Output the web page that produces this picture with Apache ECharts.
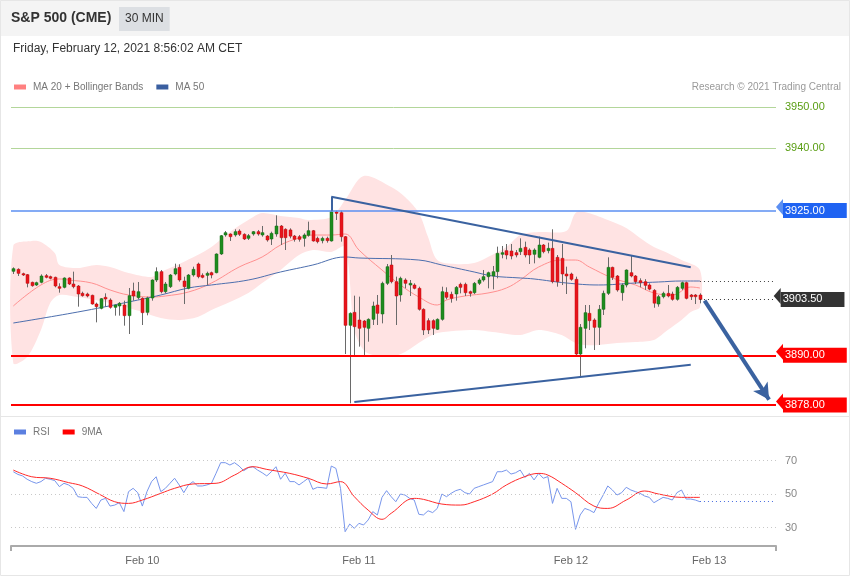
<!DOCTYPE html>
<html><head><meta charset="utf-8">
<script src="https://cdn.jsdelivr.net/npm/echarts@6/dist/echarts.min.js"></script>
<style>html,body{margin:0;padding:0;background:#fff}#c{width:850px;height:576px}</style>
</head><body><div id="c"></div><script>
// ---------- DATA ----------
const slotCount = 166;
const categories = Array.from({length: slotCount}, (_, i) => String(i));
const tickIndex = [28, 75, 121, 151];
const tickText = ['Feb 10', 'Feb 11', 'Feb 12', 'Feb 13'];

// candles: [open, close, low, high]
const candles = [
[3910.30,3910.94,3909.65,3911.26],[3910.78,3909.81,3909.17,3911.02],[3909.73,3909.41,3909.17,3909.97],[3909.49,3907.40,3906.43,3909.65],
[3907.64,3906.83,3906.59,3907.80],[3906.99,3907.56,3906.75,3907.80],[3907.64,3909.17,3907.40,3909.57],[3909.25,3908.85,3908.61,3909.65],
[3909.01,3908.61,3908.37,3909.25],[3908.85,3906.75,3906.43,3909.01],[3906.59,3906.19,3905.14,3907.40],[3906.43,3908.69,3906.19,3908.85],
[3908.69,3907.24,3906.99,3908.85],[3907.24,3906.59,3906.19,3910.22],[3906.75,3904.82,3901.76,3906.99],[3904.98,3904.42,3904.18,3905.38],
[3904.82,3904.34,3904.02,3905.14],[3904.50,3902.40,3902.24,3904.66],[3902.40,3901.76,3897.97,3902.73],[3901.36,3903.69,3901.12,3903.85],
[3904.02,3903.61,3901.76,3904.98],[3903.37,3901.60,3901.28,3903.77],[3901.60,3902.16,3899.59,3902.32],[3901.92,3902.57,3899.59,3902.89],
[3902.16,3899.59,3897.17,3903.21],[3899.59,3904.42,3895.16,3906.27],[3905.55,3904.34,3903.21,3907.56],[3903.93,3905.38,3903.53,3907.72],
[3903.77,3900.31,3897.33,3904.02],[3900.39,3903.85,3899.67,3904.18],[3903.85,3908.20,3903.21,3908.37],[3908.20,3910.22,3907.72,3911.26],
[3910.22,3905.38,3904.98,3910.62],[3905.38,3907.24,3904.98,3907.72],[3906.59,3909.41,3906.27,3909.65],[3909.65,3910.94,3909.33,3912.15],
[3911.26,3908.20,3907.80,3911.99],[3907.96,3906.59,3902.40,3909.00],[3906.19,3909.41,3905.95,3909.65],[3909.41,3910.78,3909.01,3911.42],
[3912.07,3909.01,3908.61,3912.39],[3909.33,3908.85,3908.61,3909.81],[3909.33,3909.81,3907.00,3910.22],[3909.97,3909.41,3908.61,3910.22],
[3909.97,3914.49,3909.81,3914.65],[3914.49,3918.91,3914.24,3919.08],[3919.08,3919.64,3918.67,3920.04],[3919.32,3918.67,3917.63,3919.48],
[3919.08,3919.88,3918.67,3920.45],[3920.04,3919.24,3918.83,3920.45],[3919.24,3918.11,3917.87,3919.48],[3918.27,3918.91,3917.87,3919.32],
[3919.32,3919.88,3918.91,3920.04],[3919.88,3919.32,3918.91,3920.29],[3919.08,3919.64,3918.67,3921.25],[3918.83,3917.87,3917.47,3919.08],
[3918.11,3919.48,3916.66,3919.88],[3919.32,3921.25,3918.67,3923.83],[3921.25,3918.43,3916.66,3921.49],[3920.45,3918.43,3915.45,3920.69],
[3920.30,3918.80,3918.27,3920.69],[3918.83,3918.03,3917.47,3919.08],[3918.67,3918.03,3917.47,3919.08],[3918.27,3919.08,3916.26,3919.48],
[3918.99,3920.12,3918.67,3922.30],[3920.12,3917.63,3917.47,3920.29],[3918.27,3917.47,3917.06,3918.67],[3917.71,3918.27,3917.06,3918.67],
[3918.27,3917.71,3917.22,3918.67],[3917.63,3924.71,3917.47,3924.95],[3924.63,3924.31,3922.70,3924.95],[3924.47,3918.67,3917.47,3924.95],
[3918.67,3897.25,3890.32,3918.83],[3897.25,3900.15,3878.41,3900.39],[3900.39,3896.93,3890.08,3904.42],[3898.54,3896.53,3892.10,3904.18],
[3898.30,3896.77,3890.08,3898.54],[3896.53,3898.70,3893.30,3898.94],[3898.70,3901.92,3897.33,3902.97],[3902.16,3900.15,3897.33,3904.58],
[3899.99,3907.40,3897.73,3907.80],[3907.40,3911.42,3906.99,3912.07],[3911.83,3907.80,3907.40,3914.24],[3907.80,3904.34,3897.33,3909.01],
[3904.58,3908.61,3902.97,3909.01],[3908.20,3907.40,3906.19,3908.61],[3906.99,3907.40,3904.34,3908.20],[3906.99,3906.19,3905.95,3907.40],
[3906.19,3901.12,3900.80,3906.59],[3901.12,3896.12,3894.91,3901.36],[3898.38,3896.12,3895.16,3898.94],[3898.38,3896.53,3894.91,3898.70],
[3896.29,3898.70,3896.12,3898.94],[3898.70,3905.38,3898.38,3906.59],[3905.22,3904.02,3903.53,3906.43],[3904.74,3903.77,3902.73,3905.38],
[3904.82,3906.43,3903.21,3906.75],[3907.16,3906.43,3904.98,3907.56],[3907.16,3905.14,3904.34,3907.56],[3905.38,3904.98,3904.18,3905.63],
[3905.14,3907.40,3904.82,3907.72],[3907.40,3908.20,3906.99,3908.61],[3908.20,3909.01,3907.80,3910.62],[3909.01,3909.97,3906.19,3910.22],
[3909.17,3910.22,3905.95,3911.59],[3910.22,3914.65,3908.61,3916.26],[3914.41,3914.81,3913.44,3916.42],[3915.29,3914.24,3913.20,3916.90],
[3915.21,3914.00,3913.20,3916.90],[3914.81,3914.24,3913.68,3915.45],[3915.05,3915.85,3914.24,3918.27],[3916.10,3914.24,3913.68,3917.47],
[3915.45,3914.24,3912.07,3915.85],[3914.41,3915.45,3912.23,3915.85],[3913.68,3916.66,3913.44,3918.67],[3916.66,3915.05,3914.65,3916.90],
[3915.29,3915.85,3914.65,3917.22],[3915.85,3907.80,3907.40,3920.45],[3913.68,3907.80,3906.59,3914.24],[3913.44,3909.65,3906.99,3916.90],
[3909.65,3909.17,3904.82,3911.42],[3909.65,3908.37,3908.04,3909.97],[3908.37,3890.32,3890.08,3909.01],[3890.32,3896.77,3884.85,3897.57],
[3896.53,3900.31,3891.70,3902.16],[3900.15,3898.38,3896.12,3902.16],[3898.54,3896.77,3891.29,3898.94],[3896.77,3901.12,3892.50,3902.16],
[3901.12,3904.98,3899.75,3905.63],[3904.98,3911.26,3904.58,3913.68],[3911.26,3908.85,3908.20,3911.42],[3909.17,3905.79,3905.38,3909.41],
[3905.14,3906.99,3903.21,3907.40],[3906.99,3910.62,3906.43,3910.78],[3909.97,3909.17,3908.85,3914.00],[3909.17,3907.80,3907.24,3909.41],
[3908.04,3907.56,3906.43,3908.61],[3907.80,3906.90,3905.80,3908.40],[3907.00,3906.00,3905.70,3907.40],[3905.70,3902.60,3901.50,3906.00],
[3902.40,3904.17,3901.76,3904.57],[3904.17,3904.98,3903.77,3905.38],[3904.98,3904.33,3904.01,3906.99],[3904.82,3903.53,3903.21,3905.38],
[3903.53,3906.43,3903.21,3906.75],[3906.19,3907.56,3905.78,3907.80],[3907.56,3903.77,3903.53,3907.80],[3904.58,3904.17,3903.37,3904.82],
[3904.58,3904.17,3902.40,3904.82],[3904.58,3903.50,3902.56,3904.98]
];

// moving averages: [candle index, price]
const ma20 = [[0,3901.92],[6,3907.0],[10,3908.45],[12,3908.2],[17,3907.48],[21,3905.79],[25,3904.58],[30,3904.1],[33,3904.34],[38,3905.3],
[43,3907.48],[49,3911.34],[54,3913.76],[58,3916.66],[62,3918.35],[65,3919.07],[69,3919.07],[72,3919.32],[75,3915.45],[80,3910.62],
[84,3907.0],[88,3904.1],[92,3902.16],[94,3903.37],[98,3904.34],[103,3905.06],[107,3906.27],[110,3908.2],[114,3911.34],[119,3913.03],
[122,3913.03],[125,3911.34],[130,3908.69],[135,3907.0],[139,3905.06],[143,3904.58],[147,3906.51],[149,3906.27]];
const ma50 = [[0,3897.81],[14,3900.47],[25,3902.89],[32,3904.58],[38,3906.27],[43,3907.0],[51,3908.2],[58,3910.14],[65,3911.83],[72,3913.76],
[75,3913.52],[88,3913.03],[93,3911.83],[100,3910.14],[104,3909.17],[110,3908.69],[113,3908.45],[120,3907.48],[127,3907.0],[135,3907.48],
[140,3907.72],[145,3907.96],[149,3907.96]];
const upperBand = [[0,3916.42],[4,3917.63],[6,3917.38],[9,3914.73],[10,3911.83],[14,3911.10],[18,3911.83],[21,3911.34],[25,3909.89],[30,3908.93],
[32,3910.14],[36,3912.07],[40,3914.24],[43,3916.18],[47,3919.80],[51,3922.70],[54,3924.39],[58,3923.67],[62,3923.18],[64,3922.70],
[69,3923.42],[72,3927.53],[76,3933.33],[82,3930.67],[85,3928.26],[88,3924.39],[90,3918.59],[92,3913.03],[96,3912.07],[100,3912.31],
[103,3913.76],[107,3916.18],[110,3919.07],[114,3919.80],[120,3920.04],[122,3924.39],[124,3924.63],[129,3922.70],[133,3920.77],[136,3918.35],
[139,3916.18],[142,3914.73],[145,3913.03],[149,3910.62]];
const lowerBand = [[0,3888.15],[3,3889.60],[6,3896.12],[8,3902.64],[10,3904.58],[14,3904.10],[21,3902.64],[28,3900.47],[32,3899.02],[36,3898.54],
[40,3899.26],[43,3900.95],[47,3902.89],[51,3905.06],[54,3907.48],[58,3910.62],[62,3914.24],[65,3915.45],[69,3914.97],[72,3916.18],
[74,3896.12],[76,3891.29],[78,3890.08],[82,3889.60],[85,3890.81],[89,3893.71],[92,3895.40],[100,3896.12],[104,3895.64],[110,3894.91],
[114,3896.12],[119,3894.91],[122,3892.98],[124,3892.50],[127,3892.50],[131,3892.98],[135,3893.22],[139,3893.71],[142,3896.12],[145,3898.54],
[147,3900.47],[149,3901.68]];

// RSI (one value per candle) and its 9-period average
const rsi = [63.3,61.7,60.8,58.8,57.4,56.4,57.4,59.4,58.8,58.0,
54.4,56.4,55.4,53.4,48.4,48.0,48.0,44.4,41.4,46.4,
47.4,42.8,43.4,44.8,39.5,51.4,53.4,50.8,42.8,51.4,
57.4,60.3,51.4,53.4,56.4,59.4,55.4,50.8,55.4,57.4,
54.8,54.8,55.4,56.4,62.4,68.7,68.7,67.3,68.7,66.7,
63.9,65.7,66.3,64.3,62.7,60.8,63.3,66.3,58.8,62.4,
57.4,57.4,55.4,57.4,59.4,52.8,54.0,53.8,53.4,66.7,
65.3,53.4,27.5,32.1,29.5,32.5,31.5,34.5,39.5,37.5,
48.0,52.0,48.4,45.4,50.0,49.4,47.4,46.4,37.9,37.5,
40.0,38.9,41.4,50.0,48.4,50.4,52.0,52.8,50.8,50.0,
53.4,54.4,55.4,56.4,57.4,63.3,63.3,64.3,61.9,62.7,
64.3,59.9,62.3,58.4,62.3,59.4,60.4,44.4,53.4,47.4,
47.4,45.4,28.9,37.5,41.4,40.4,38.9,44.4,49.4,54.8,
52.4,49.4,50.8,54.0,52.4,51.4,50.4,48.8,48.0,44.8,
46.4,48.0,47.4,46.4,50.8,52.4,47.0,47.0,46.4,45.4];
const rsiMa9 = [[0,64.3],[4,60.3],[8,59.4],[12,56.8],[15,54.8],[19,49.4],[22,45.4],[25,44.4],[28,46.4],[32,50.4],[35,53.4],[39,56.0],
[44,56.4],[48,61.3],[52,66.3],[55,64.7],[60,62.3],[64,59.4],[68,56.0],[71,57.4],[74,48.4],[77,40.4],[80,34.9],[82,38.5],[87,47.4],
[89,46.8],[93,44.0],[97,43.4],[100,45.4],[104,50.0],[107,55.4],[111,60.4],[114,62.3],[116,61.3],[119,56.4],[122,50.8],[126,42.8],
[129,41.4],[133,46.4],[137,51.8],[140,50.0],[145,48.0],[149,48.0]];
const rsiLevels = [70, 50, 30];

// support / resistance levels
const greenLevels = [3950, 3940];
const blueLevels = [3925];
const redLevels = [3890, 3878];
// drawn trend lines: [candle index, price]
const upperTrend = [[69,3924.95],[69,3928.3],[147,3911.3]];
const lowerTrend = [[74,3878.7],[147,3887.7]];
const arrowPath = [[150,3903.2],[164,3879.3]];

// ---------- CHART ----------
const lastIdx = candles.length - 1;
const lastClose = candles[lastIdx][1];
const lastMa50 = ma50[ma50.length - 1][1];
const lastRsi = rsi[rsi.length - 1];
const endIdx = slotCount - 1;
const FONT = 'Arial, "Liberation Sans", sans-serif';
const NOTCH = 'path://M0,0L2,0L1,1Z';

function boxLabel(bg) {
  return {show: true, position: 'end', distance: 7, color: '#fff', backgroundColor: bg,
    padding: [2, 22, 2, 2], fontSize: 11, fontFamily: FONT, formatter: p => Number(p.value).toFixed(2)};
}
function segs(pts) {
  const out = [];
  for (let k = 0; k < pts.length - 1; k++) out.push([{coord: pts[k]}, {coord: pts[k + 1]}]);
  return out;
}

const chart = echarts.init(document.getElementById('c'), null, {renderer: 'canvas'});
chart.setOption({
  animation: false,
  backgroundColor: '#fff',
  textStyle: {fontFamily: FONT},
  graphic: [
    {type: 'rect', z: -10, shape: {x: 0, y: 0, width: 850, height: 36}, style: {fill: '#f4f4f4'}},
    {type: 'rect', z: -10, shape: {x: 0.5, y: 0.5, width: 849, height: 575}, style: {fill: 'none', stroke: '#e6e6e6'}},
    {type: 'line', z: -10, shape: {x1: 0, y1: 416.5, x2: 850, y2: 416.5}, style: {stroke: '#e6e6e6', lineWidth: 1}}
  ],
  title: [
    {text: 'S&P 500 (CME)', left: 11, top: 11, padding: 0, textStyle: {fontSize: 14, fontWeight: 'bold', color: '#333', fontFamily: FONT}},
    {text: '30 MIN', left: 119, top: 7, padding: [6, 6, 6, 6], backgroundColor: '#dcdfe3', textStyle: {fontSize: 12, fontWeight: 'normal', color: '#333', fontFamily: FONT}},
    {text: 'Friday, February 12, 2021 8:56:02 AM CET', left: 13, top: 43, padding: 0, textStyle: {fontSize: 12, fontWeight: 'normal', color: '#333', fontFamily: FONT}},
    {text: 'Research \u00a9 2021 Trading Central', right: 9, top: 82, padding: 0, textStyle: {fontSize: 10, fontWeight: 'normal', color: '#999', fontFamily: FONT}}
  ],
  legend: [
    {left: 14, top: 82, padding: 0, itemWidth: 12, itemHeight: 5, itemGap: 13, icon: 'rect', selectedMode: false,
     textStyle: {fontSize: 10, color: '#777', fontFamily: FONT, padding: [0, 0, 0, 2]},
     data: [{name: 'MA 20 + Bollinger Bands', itemStyle: {color: '#ff8080'}}, {name: 'MA 50', itemStyle: {color: '#3a5fa0'}}]},
    {left: 14, top: 427, padding: 0, itemWidth: 12, itemHeight: 5, itemGap: 13, icon: 'rect', selectedMode: false,
     textStyle: {fontSize: 10, color: '#777', fontFamily: FONT, padding: [0, 0, 0, 2]},
     data: [{name: 'RSI', itemStyle: {color: '#5b7fe0'}}, {name: '9MA', itemStyle: {color: '#ff0000'}}]}
  ],
  grid: [
    {left: 11, right: 74, top: 94.58, height: 318.71},
    {left: 11, right: 74, top: 443.75, height: 102.2}
  ],
  xAxis: [
    {type: 'category', data: categories, gridIndex: 0, boundaryGap: true, show: false},
    {type: 'category', data: categories, gridIndex: 1, boundaryGap: true,
     axisLine: {show: true, lineStyle: {color: '#aaa', width: 2}},
     axisTick: {show: true, interval: (i) => i === 0, length: 5, lineStyle: {color: '#aaa', width: 2}},
     axisLabel: {show: true, interval: (i) => tickIndex.includes(i), color: '#666', fontSize: 11, margin: 10, fontFamily: FONT,
       formatter: (v) => { const k = tickIndex.indexOf(Number(v)); return k >= 0 ? tickText[k] : ''; }},
     splitLine: {show: false}}
  ],
  yAxis: [
    {type: 'value', gridIndex: 0, min: 3876, max: 3953, show: false},
    {type: 'value', gridIndex: 1, min: 19, max: 80, show: false}
  ],
  series: [
    {name: 'MA 20 + Bollinger Bands', type: 'custom', xAxisIndex: 0, yAxisIndex: 0, z: 1, silent: true,
     data: [[0, 3910]], encode: {x: 0, y: 1},
     renderItem: (params, api) => {
       const pts = upperBand.map(p => api.coord(p)).concat(lowerBand.slice().reverse().map(p => api.coord(p)));
       return {type: 'polygon', shape: {points: pts, smooth: 0.3}, style: {fill: '#ffe3e3'}};
     }},
    {name: 'MA 20 + Bollinger Bands', type: 'line', xAxisIndex: 0, yAxisIndex: 0, z: 3, data: ma20, smooth: 0.4, symbol: 'none',
     lineStyle: {color: '#ff9090', width: 1}, silent: true},
    {name: 'MA 50', type: 'line', xAxisIndex: 0, yAxisIndex: 0, z: 3, data: ma50, smooth: 0.4, symbol: 'none',
     lineStyle: {color: '#4d6fae', width: 1}, silent: true,
     markLine: {silent: true, symbol: 'none', lineStyle: {color: '#444', type: [1, 3], width: 1}, label: {show: false},
       data: [[{coord: [lastIdx, lastMa50]}, {coord: [endIdx, lastMa50]}]]}},
    {name: 'candles', type: 'custom', xAxisIndex: 0, yAxisIndex: 0, z: 4,
     data: candles.map((d, i) => [i, d[0], d[1], d[2], d[3]]), encode: {x: 0, y: [1, 2, 3, 4]},
     renderItem: (params, api) => {
       const x = api.value(0), o = api.value(1), c = api.value(2), l = api.value(3), h = api.value(4);
       const pH = api.coord([x, h]), pL = api.coord([x, l]), pO = api.coord([x, o]), pC = api.coord([x, c]);
       const cx = Math.round(pO[0]) + 0.5;
       const up = c >= o;
       const top = Math.min(pO[1], pC[1]);
       const hh = Math.max(1, Math.abs(pO[1] - pC[1]));
       return {type: 'group', children: [
         {type: 'line', shape: {x1: cx, y1: pH[1], x2: cx, y2: pL[1]}, style: {stroke: '#6a6a6a', lineWidth: 1}},
         {type: 'rect', shape: {x: cx - 1.5, y: top, width: 3, height: hh},
          style: {fill: up ? '#1e8c1e' : '#e8141c', stroke: up ? '#1a6e1a' : '#c01010', lineWidth: 0.5}}
       ]};
     }},
    {name: 'levels', type: 'line', xAxisIndex: 0, yAxisIndex: 0, z: 2, data: [],
     markLine: {silent: true, symbol: 'none', data:
       greenLevels.map(v => ({yAxis: v, lineStyle: {color: '#b3d69a', width: 1, type: 'solid'},
          label: {show: true, position: 'end', distance: 9, color: '#5a9e14', fontSize: 11, fontFamily: FONT, formatter: p => Number(p.value).toFixed(2)}}))
     }},
    {name: 'boxLevels', type: 'line', xAxisIndex: 0, yAxisIndex: 0, z: 2, data: [],
     markLine: {silent: true, symbol: ['none', NOTCH], symbolSize: [16, 7], symbolOffset: [0, -3.5], data: [
       ...blueLevels.map(v => ({yAxis: v, lineStyle: {color: '#5b8ff2', width: 1.5, type: 'solid'}, label: boxLabel('#1f63f2')})),
       ...redLevels.map(v => ({yAxis: v, lineStyle: {color: '#ff0000', width: 2, type: 'solid'}, label: boxLabel('#ff0000')}))
     ]}},
    {name: 'last', type: 'line', xAxisIndex: 0, yAxisIndex: 0, z: 2, data: [],
     markLine: {silent: true, symbol: ['none', NOTCH], symbolSize: [16, 7], symbolOffset: [0, -3.5],
       lineStyle: {color: '#333', type: [1, 3], width: 1},
       data: [[{coord: [lastIdx, lastClose]}, {coord: [endIdx, lastClose],
         label: {show: true, position: 'end', distance: 7, color: '#fff', backgroundColor: '#333', padding: [2, 22, 2, 2], fontSize: 11,
                 fontFamily: FONT, formatter: () => lastClose.toFixed(2)}}]]}},
    {name: 'trend', type: 'line', xAxisIndex: 0, yAxisIndex: 0, z: 5, data: [],
     markLine: {silent: true, symbol: 'none', lineStyle: {color: '#3a62a0', width: 2, type: 'solid'}, label: {show: false},
       data: [...segs(upperTrend), ...segs(lowerTrend)]}},
    {name: 'arrow', type: 'line', xAxisIndex: 0, yAxisIndex: 0, z: 5, data: [],
     markLine: {silent: true, symbol: ['none', 'arrow'], symbolSize: [13, 16], lineStyle: {color: '#3a62a0', width: 4, type: 'solid'}, label: {show: false},
       data: segs(arrowPath)}},
    {name: 'RSI', type: 'line', xAxisIndex: 1, yAxisIndex: 1, z: 3, data: rsi, symbol: 'none', silent: true,
     lineStyle: {color: '#7896ec', width: 1},
     markLine: {silent: true, symbol: 'none', data: [
       ...rsiLevels.map(v => ({yAxis: v, lineStyle: {color: '#c8c8c8', type: [1, 3], width: 1},
          label: {show: true, position: 'end', distance: 9, color: '#888', fontSize: 11, fontFamily: FONT, formatter: p => String(p.value)}})),
       [{coord: [lastIdx, lastRsi], lineStyle: {color: '#4a6ee0', type: [1, 3], width: 1}, label: {show: false}}, {coord: [endIdx, lastRsi]}]
     ]}},
    {name: '9MA', type: 'line', xAxisIndex: 1, yAxisIndex: 1, z: 3, data: rsiMa9, smooth: 0.4, symbol: 'none', silent: true,
     lineStyle: {color: '#ff2a2a', width: 1}}
  ]
});
</script></body></html>
